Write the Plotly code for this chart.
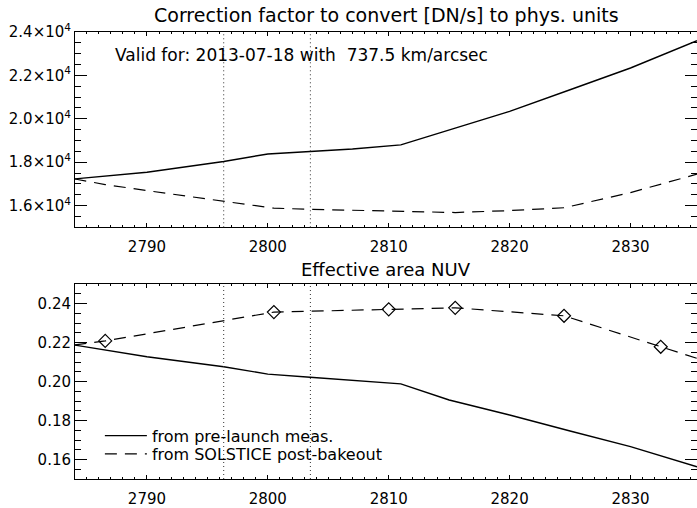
import plotly.graph_objects as go

# ---- data ----
wl_solid = [2784.0, 2790.0, 2796.35, 2800.0, 2803.5, 2807.0, 2811.0, 2815.0, 2820.0, 2825.0, 2830.0, 2835.5]
corr_prelaunch = [1.723e4, 1.754e4, 1.803e4, 1.838e4, 1.849e4, 1.861e4, 1.880e4, 1.948e4, 2.034e4, 2.134e4, 2.234e4, 2.360e4]
ea_prelaunch = [0.2187, 0.2127, 0.2076, 0.2038, 0.2022, 0.2006, 0.1988, 0.1905, 0.1828, 0.1746, 0.1666, 0.1563]

wl_corr_sol = [2784.0, 2786.55, 2790.0, 2796.35, 2800.5, 2803.5, 2807.0, 2810.0, 2815.5, 2820.0, 2824.5, 2830.0, 2832.5, 2835.5]
corr_solstice = [1.723e4, 1.697e4, 1.669e4, 1.618e4, 1.588e4, 1.583e4, 1.579e4, 1.576e4, 1.568e4, 1.577e4, 1.590e4, 1.660e4, 1.700e4, 1.745e4]

wl_ea_sol_line = [2784.0, 2786.55, 2800.5, 2810.0, 2815.5, 2824.5, 2832.5, 2835.5]
ea_solstice_line = [0.2187, 0.2208, 0.2356, 0.2370, 0.2378, 0.2337, 0.2178, 0.2119]

wl_solstice_pts = [2786.55, 2800.5, 2810.0, 2815.5, 2824.5, 2832.5]
ea_solstice_pts = [0.2208, 0.2356, 0.2370, 0.2378, 0.2337, 0.2178]

mg_lines = [2796.35, 2803.52]

x_ticks = [2790, 2800, 2810, 2820, 2830]
y1_ticks = [1.6e4, 1.8e4, 2.0e4, 2.2e4, 2.4e4]
y1_text = ["1.6×10<sup>4</sup>", "1.8×10<sup>4</sup>", "2.0×10<sup>4</sup>", "2.2×10<sup>4</sup>", "2.4×10<sup>4</sup>"]
y2_ticks = [0.16, 0.18, 0.20, 0.22, 0.24]
y2_text = ["0.16", "0.18", "0.20", "0.22", "0.24"]

title_top = "Correction factor to convert [DN/s] to phys. units"
title_bot = "Effective area NUV"
valid_text = "Valid for: 2013-07-18 with  737.5 km/arcsec"
legend_names = ["from pre-launch meas.", "from SOLSTICE post-bakeout"]

FONT = "DejaVu Sans"
DASH = "12px,8px"

fig = go.Figure()

# top panel
fig.add_trace(go.Scatter(x=wl_solid, y=corr_prelaunch, mode="lines",
                         line=dict(color="black", width=1.4), showlegend=False,
                         xaxis="x", yaxis="y"))
fig.add_trace(go.Scatter(x=wl_corr_sol, y=corr_solstice, mode="lines",
                         line=dict(color="black", width=1.2, dash=DASH), showlegend=False,
                         xaxis="x", yaxis="y"))
# bottom panel
fig.add_trace(go.Scatter(x=wl_solid, y=ea_prelaunch, mode="lines", name=legend_names[0],
                         line=dict(color="black", width=1.4), showlegend=True, legend="legend",
                         xaxis="x2", yaxis="y2"))
fig.add_trace(go.Scatter(x=wl_ea_sol_line, y=ea_solstice_line, mode="lines", name=legend_names[1],
                         line=dict(color="black", width=1.2, dash=DASH), showlegend=True, legend="legend2",
                         xaxis="x2", yaxis="y2"))
fig.add_trace(go.Scatter(x=wl_solstice_pts, y=ea_solstice_pts, mode="markers",
                         marker=dict(symbol="diamond-open", size=10, color="black",
                                     line=dict(color="black", width=1.2)),
                         showlegend=False, xaxis="x2", yaxis="y2"))

for xr, yr in (("x", "y"), ("x2", "y2")):
    for wl in mg_lines:
        fig.add_shape(type="line", xref=xr, yref=yr + " domain", x0=wl, x1=wl, y0=0, y1=1,
                      line=dict(color="#333333", width=1, dash="1px,3px"))

xcommon = dict(range=[2784.05, 2835.5], tickvals=x_ticks, ticks="inside", ticklen=4, tickwidth=1,
               tickcolor="black", showline=True, linecolor="black", linewidth=1, mirror="allticks",
               showgrid=False, zeroline=False,
               tickfont=dict(family=FONT, size=15, color="black"),
               minor=dict(dtick=1, tick0=2780, ticks="inside", ticklen=2, tickcolor="black", showgrid=False),
               ticklabelstandoff=6)

leg_common = dict(xanchor="left", yanchor="top", bgcolor="rgba(0,0,0,0)", borderwidth=0,
                  itemwidth=42, font=dict(family=FONT, size=16, color="black"))

fig.update_layout(
    width=697, height=508,
    margin=dict(l=75, r=0, t=32, b=29),
    paper_bgcolor="white", plot_bgcolor="white",
    font=dict(family=FONT, size=15, color="black"),
    xaxis=dict(**xcommon, domain=[0, 1], anchor="y"),
    xaxis2=dict(**xcommon, domain=[0, 1], anchor="y2"),
    yaxis=dict(domain=[0.5631, 1.0], anchor="x", range=[1.5e4, 2.4e4],
               tickvals=y1_ticks, ticktext=y1_text, ticks="inside", ticklen=12, tickwidth=1,
               tickcolor="black", showline=True, linecolor="black", linewidth=1, mirror="allticks",
               showgrid=False, zeroline=False, tickfont=dict(family=FONT, size=15, color="black"),
               minor=dict(dtick=500, tick0=0, ticks="inside", ticklen=6, tickcolor="black", showgrid=False)),
    yaxis2=dict(domain=[0.0, 0.4362], anchor="x2", range=[0.15, 0.25],
                tickvals=y2_ticks, ticktext=y2_text, ticks="inside", ticklen=12, tickwidth=1,
                tickcolor="black", showline=True, linecolor="black", linewidth=1, mirror="allticks",
                showgrid=False, zeroline=False, tickfont=dict(family=FONT, size=15, color="black"),
                minor=dict(dtick=0.005, tick0=0, ticks="inside", ticklen=6, tickcolor="black", showgrid=False)),
    legend=dict(x=0.040, y=0.1349, **leg_common),
    legend2=dict(x=0.040, y=0.0940, **leg_common),
    annotations=[
        dict(text=title_top, xref="paper", yref="paper", x=0.5, y=1.038, xanchor="center",
             yanchor="middle", showarrow=False, font=dict(family=FONT, size=19, color="black")),
        dict(text=title_bot, xref="paper", yref="paper", x=0.5, y=0.4676, xanchor="center",
             yanchor="middle", showarrow=False, font=dict(family=FONT, size=18, color="black")),
        dict(text=valid_text, xref="paper", yref="paper", x=0.0611, y=0.9485, xanchor="left",
             yanchor="middle", showarrow=False, font=dict(family=FONT, size=17, color="black")),
    ],
)

fig.write_html("out.html")
